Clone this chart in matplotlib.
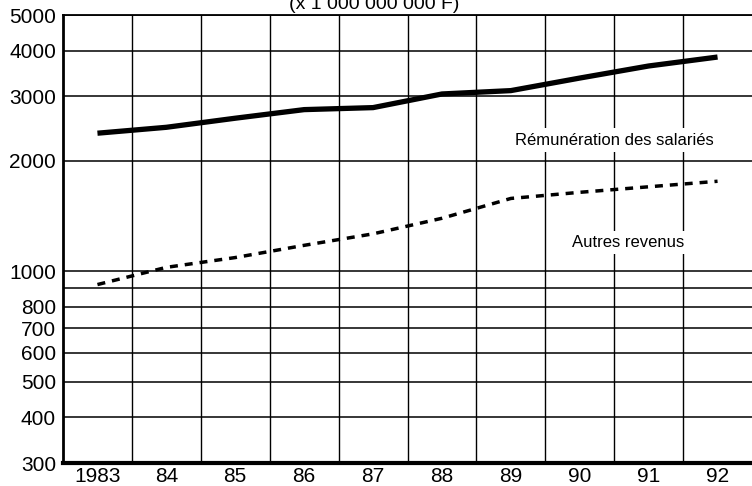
import numpy as np
import matplotlib
matplotlib.use('Agg')
import matplotlib.pyplot as plt
from matplotlib.ticker import FixedLocator, NullFormatter

plt.rcParams['font.family'] = ['Liberation Sans', 'DejaVu Sans']

# data (x 1 000 000 000 F)
years = [1983, 1984, 1985, 1986, 1987, 1988, 1989, 1990, 1991, 1992]
remuneration = [2380, 2470, 2615, 2760, 2795, 3045, 3110, 3365, 3630, 3840]
autres = [920, 1025, 1090, 1177, 1265, 1395, 1580, 1642, 1700, 1760]

year_labels = ['1983', '84', '85', '86', '87', '88', '89', '90', '91', '92']
y_ticks = [300, 400, 500, 600, 700, 800, 900, 1000, 2000, 3000, 4000, 5000]
y_labels = ['300', '400', '500', '600', '700', '800', '', '1000',
            '2000', '3000', '4000', '5000']

fig = plt.figure(figsize=(7.52, 4.86), dpi=100)
ax = fig.add_axes([63 / 752, 1 - 463 / 486, 1 - 63 / 752, (463 - 15) / 486])

ax.set_yscale('log')
ax.set_ylim(300, 5000)
ax.set_xlim(1982.5, 1992.5)

# grid: horizontal at every tick, vertical between years
ax.yaxis.set_major_locator(FixedLocator(y_ticks))
ax.yaxis.set_minor_locator(FixedLocator([]))
ax.yaxis.set_minor_formatter(NullFormatter())
ax.set_yticklabels(y_labels)
ax.set_xticks(years)
ax.set_xticklabels(year_labels)
ax.set_xticks([y + 0.5 for y in years[:-1]], minor=True)

ax.grid(True, which='major', axis='y', color='black', lw=1.1)
ax.grid(True, which='minor', axis='x', color='black', lw=1.0)
ax.tick_params(axis='both', which='both', length=0, labelsize=15)
ax.tick_params(axis='y', pad=5)
ax.tick_params(axis='x', pad=3)

ax.spines['top'].set_linewidth(1.3)
ax.spines['left'].set_linewidth(2)
ax.spines['bottom'].set_linewidth(3)
ax.spines['right'].set_visible(False)

ax.plot(years, remuneration, color='black', lw=3.8, solid_capstyle='butt', zorder=5)
ax.plot(years, autres, color='black', lw=2.5, linestyle=(0, (2.3, 2.0)), zorder=5)

ax.text(1990.5, 2280, 'Rémunération des salariés', fontsize=12,
        ha='center', va='center', zorder=6,
        bbox=dict(facecolor='white', edgecolor='none', pad=3))
ax.text(1990.7, 1200, 'Autres revenus', fontsize=12,
        ha='center', va='center', zorder=6,
        bbox=dict(facecolor='white', edgecolor='none', pad=3))

fig.text(374 / 752, 1 - 13 / 486, '(x 1 000 000 000 F)', fontsize=14,
         ha='center', va='bottom')

fig.savefig('out.png', dpi=100)
